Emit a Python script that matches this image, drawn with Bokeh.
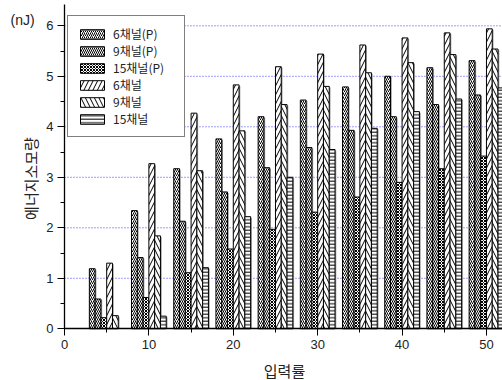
import numpy as np
from bokeh.plotting import figure
from bokeh.models import Range1d, Legend, LegendItem, Label, SingleIntervalTicker
from bokeh.embed import file_html
from bokeh.resources import INLINE

# ---- data ----
rates = [5, 10, 15, 20, 25, 30, 35, 40, 45, 50]
series_names = ["6채널(P)", "9채널(P)", "15채널(P)", "6채널", "9채널", "15채널"]
ch6_p = [1.19, 2.34, 3.17, 3.76, 4.20, 4.53, 4.79, 5.00, 5.17, 5.31]
ch9_p = [0.59, 1.41, 2.13, 2.71, 3.19, 3.59, 3.93, 4.20, 4.44, 4.63]
ch15_p = [0.22, 0.62, 1.11, 1.58, 1.97, 2.31, 2.61, 2.90, 3.17, 3.42]
ch6 = [1.30, 3.27, 4.27, 4.83, 5.19, 5.44, 5.62, 5.76, 5.86, 5.94]
ch9 = [0.26, 1.84, 3.13, 3.92, 4.44, 4.80, 5.07, 5.27, 5.43, 5.54]
ch15 = [float("nan"), 0.25, 1.21, 2.22, 3.00, 3.55, 3.97, 4.30, 4.55, 4.77]
grid_values = [1, 2, 3, 4, 5, 6]
x_label = "입력률"
y_label = "에너지소모량"
unit_label = "(nJ)"

series_values = [ch6_p, ch9_p, ch15_p, ch6, ch9, ch15]

# ---- styles ----
hatches = ["/", "\\", "x", "/", "\\", "-"]
hatch_scales = [4, 4, 3, 9, 9, 3.5]
bar_w = 0.685
FONT_NUM = "Liberation Sans"
FONT_KR = "Noto Sans CJK KR"
X_MAX = 51.9
Y_AXIS_TOP = 6.42

p = figure(width=502, height=380,
           x_range=Range1d(-7.583, X_MAX), y_range=Range1d(-1.024, 6.501),
           output_backend="svg", toolbar_location=None,
           min_border_left=0, min_border_right=0,
           min_border_top=0, min_border_bottom=0)
p.outline_line_color = None
p.background_fill_color = "white"
p.grid.visible = False

p.xaxis.ticker = SingleIntervalTicker(interval=10, num_minor_ticks=2)
p.yaxis.ticker = SingleIntervalTicker(interval=1, num_minor_ticks=2)
p.xaxis.fixed_location = 0
p.yaxis.fixed_location = 0
p.xaxis.bounds = (0, X_MAX)
p.yaxis.bounds = (0, Y_AXIS_TOP)
for ax in (p.xaxis, p.yaxis):
    ax.axis_line_width = 1.3
    ax.axis_line_color = "black"
    ax.major_tick_line_color = "black"
    ax.minor_tick_line_color = "black"
    ax.major_tick_out = 7
    ax.major_tick_in = 0
    ax.minor_tick_out = 4
    ax.minor_tick_in = 0
    ax.major_label_text_font = FONT_NUM
    ax.major_label_text_font_size = "13px"
    ax.major_label_text_color = "#222222"
    ax.major_label_standoff = 4

# horizontal dotted grid lines, from the y axis to the right edge
gy = np.array(grid_values, dtype=float)
p.segment(x0=np.zeros_like(gy), y0=gy, x1=np.full_like(gy, X_MAX), y1=gy,
          line_color="#2b2bff", line_dash="1 2", line_width=1, line_alpha=0.9,
          level="underlay")

groups = np.array(rates, dtype=float)
renderers = []
# shadows first
for i, vals in enumerate(series_values):
    xs = groups + (i - 2.5) * bar_w + 0.15
    tops = np.array(vals, dtype=float) - 0.02
    p.vbar(x=xs, top=tops, width=bar_w, fill_color="#9a9a9a", line_color=None)
for i, vals in enumerate(series_values):
    xs = groups + (i - 2.5) * bar_w
    r = p.vbar(x=xs, top=np.array(vals, dtype=float), width=bar_w,
               fill_color="white", line_color="black", line_width=1,
               hatch_pattern=hatches[i], hatch_scale=hatch_scales[i],
               hatch_weight=1, hatch_color="black")
    renderers.append(r)

legend = Legend(items=[LegendItem(label=n, renderers=[r]) for n, r in zip(series_names, renderers)],
                location=(67, 243), margin=0, padding=9, spacing=0,
                glyph_width=30, glyph_height=12, label_height=12, label_width=62,
                label_standoff=6, label_text_font=FONT_KR,
                label_text_font_size="12px", label_text_line_height=0.9,
                label_text_color="#222222",
                border_line_color="black", border_line_width=1,
                background_fill_color="white", background_fill_alpha=1)
p.add_layout(legend)

p.add_layout(Label(x=-6.4, y=6.105, text=unit_label, text_font=FONT_NUM,
                   text_font_size="14px", text_align="left", text_baseline="middle",
                   text_color="#222222"))
p.add_layout(Label(x=-4.03, y=2.976, text=y_label, angle=np.pi / 2, text_font=FONT_KR,
                   text_font_size="15px", text_align="center", text_baseline="middle",
                   text_color="#222222"))
p.add_layout(Label(x=26.07, y=-0.826, text=x_label, text_font=FONT_KR,
                   text_font_size="15px", text_align="center", text_baseline="middle",
                   text_color="#222222"))

open("out.html", "w").write(file_html(p, INLINE))
